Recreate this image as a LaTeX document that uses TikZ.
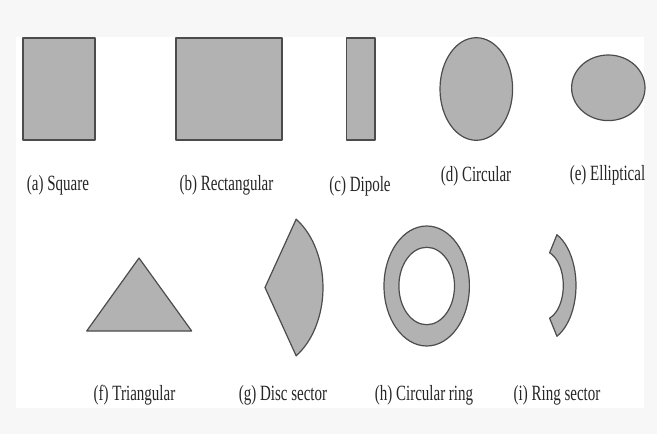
\documentclass[tikz,border=0pt]{standalone}
\usepackage{fontspec}
\setmainfont{Liberation Serif}
\usetikzlibrary{calc}

\begin{document}
\begin{tikzpicture}[x=1pt, y=-1pt, line width=1.2pt,
  patch/.style={draw=black!70, fill=black!30, line join=round},
  caption/.style={anchor=base, text=black!85, inner sep=0pt,
    font=\fontsize{15}{18}\selectfont, yscale=1.45},
]
  % page and white panel
  \fill[black!3] (0,0) rectangle (657,434);
  \fill[white] (16,37) rectangle (644,408);
  \useasboundingbox (0,0) rectangle (657,434);

  \coordinate (D) at (476.3,89);
  \coordinate (E) at (608.3,87.8);
  \coordinate (G) at (265,287.5);
  \coordinate (H) at (426.7,286);
  \coordinate (I) at (543,285.5);

  % top row
  \draw[patch] (23,38) rectangle (95,140);
  \draw[patch] (176,38) rectangle (282,140);
  \draw[patch] (346.7,38) rectangle (375,140);
  \draw[patch] (D) ellipse [x radius=36.3, y radius=51.3];
  \draw[patch] (E) ellipse [x radius=36.7, y radius=32.8];

  % bottom row
  \draw[patch] (86.7,331) -- (139,258) -- (191.7,331) -- cycle;
  \draw[patch] (G) -- ++(-57.5:58 and 81)
    arc [start angle=-57.5, end angle=57.5, x radius=58, y radius=81] -- cycle;
  \draw[patch, even odd rule] (H) ellipse [x radius=42.7, y radius=60]
    (H) ellipse [x radius=27.8, y radius=38.7];
  \draw[patch] (I) ++(-65:33 and 56)
    arc [start angle=-65, end angle=65, x radius=33, y radius=56]
    -- ($(I)+(71:20.3 and 34.6)$)
    arc [start angle=71, end angle=-71, x radius=20.3, y radius=34.6] -- cycle;

  % captions
  \foreach \nm/\x/\y/\txt in {a/58/190/(a) Square, b/226.5/190/(b) Rectangular,
      c/360/191/(c) Dipole, d/476/181/(d) Circular, e/607.5/180/(e) Elliptical,
      f/134.5/400/(f) Triangular, g/283/400/(g) Disc sector,
      h/424/400/(h) Circular ring, i/557/400/(i) Ring sector}
    \node[caption] (cap\nm) at (\x,\y) {\txt};
\end{tikzpicture}
\end{document}
